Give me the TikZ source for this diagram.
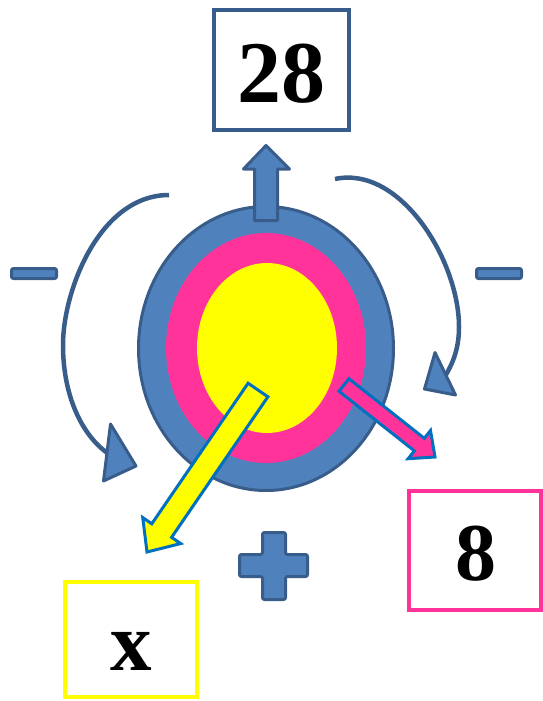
\documentclass[tikz,border=0pt]{standalone}
\usepackage{fontspec}
\setmainfont{Liberation Serif}
\usetikzlibrary{calc}
\definecolor{blueF}{HTML}{4F81BD}
\definecolor{blueS}{HTML}{385D8A}
\definecolor{pinkF}{HTML}{FF3399}
\definecolor{arrS}{HTML}{0070C0}
\definecolor{yelF}{HTML}{FFFF00}
\begin{document}
\begin{tikzpicture}[x=1pt,y=-1pt,
  bluesh/.style={fill=blueF,draw=blueS,line width=3pt,line join=round},
  arcline/.style={draw=blueS,line width=4.5pt},
  numbox/.style={line width=4pt,minimum width=#1,inner sep=0pt},
  numtext/.style={anchor=base,inner sep=0pt,font=\bfseries}]
\useasboundingbox (0,0) rectangle (543,701);
% target
\path[bluesh] (266,348.5) ellipse [x radius=127.5pt, y radius=142pt];
\fill[pinkF] (266,348) ellipse [x radius=100pt, y radius=115pt];
\fill[yelF] (267,348) ellipse [x radius=70pt, y radius=85pt];
% up arrow
\path[bluesh] (254.5,220.5) -- (254.5,169) -- (243.5,169) -- (266,145.5) -- (289.5,169) -- (277.5,169) -- (277.5,220.5) -- cycle;
% boxes
\node[numbox=135pt,draw=blueS,minimum height=120pt] (b28) at (281.5,70) {};
\node[numtext,font=\fontsize{88}{90}\selectfont\bfseries] (t28) at (281,102) {28};
\node[numbox=132pt,draw=pinkF,minimum height=119pt] (b8) at (475,550.5) {};
\node[numtext,font=\fontsize{82}{86}\selectfont\bfseries] (t8) at (476,580) {8};
\node[numbox=132pt,draw=yelF,minimum height=115pt] (bx) at (131,639.5) {};
\node[numtext,font=\fontsize{83}{86}\selectfont\bfseries] (tx) at (131,670) {x};
% yellow arrow
\coordinate (yT) at (258,390);
\coordinate (yP) at (147,552);
\coordinate (yB) at ($(yP)!26pt!(yT)$);
\path[fill=yelF,draw=arrS,line width=3pt,line join=miter]
  ($(yT)!12pt!90:(yP)$) -- ($(yB)!12pt!-90:(yT)$) -- ($(yB)!23pt!-90:(yT)$) -- (yP)
  -- ($(yB)!23pt!90:(yT)$) -- ($(yB)!12pt!90:(yT)$) -- ($(yT)!12pt!-90:(yP)$) -- cycle;
% pink arrow
\coordinate (pT) at (344,385);
\coordinate (pP) at (435,457);
\coordinate (pB) at ($(pP)!20pt!(pT)$);
\path[fill=pinkF,draw=arrS,line width=3pt,line join=miter]
  ($(pT)!8pt!90:(pP)$) -- ($(pB)!8pt!-90:(pT)$) -- ($(pB)!18pt!-90:(pT)$) -- (pP)
  -- ($(pB)!18pt!90:(pT)$) -- ($(pB)!8pt!90:(pT)$) -- ($(pT)!8pt!-90:(pP)$) -- cycle;
% left curved arrow
\draw[arcline] (169,195) .. controls (100,195) and (63,290) .. (63,345)
  .. controls (63,400) and (85,440) .. (112,456);
\path[bluesh] (110.5,424) -- (136,466) -- (103.5,481) -- cycle;
% right curved arrow
\draw[arcline] (335,179) .. controls (400,165) and (459,260) .. (459,327)
  .. controls (459,350) and (452,365) .. (444,378);
\path[bluesh] (435,352.5) -- (455.5,395) -- (424.5,389) -- cycle;
% minus signs
\path[bluesh,rounded corners=2pt] (11.5,268.5) rectangle (56.5,278.5);
\path[bluesh,rounded corners=2pt] (476.5,268.5) rectangle (521.5,278.5);
% plus sign
\path[bluesh,rounded corners=2pt] (262.5,532.5) -- (285.5,532.5) -- (285.5,554.5) -- (307.5,554.5) -- (307.5,576.5) -- (285.5,576.5) -- (285.5,599.5) -- (262.5,599.5) -- (262.5,576.5) -- (239.5,576.5) -- (239.5,554.5) -- (262.5,554.5) -- cycle;
\end{tikzpicture}
\end{document}
